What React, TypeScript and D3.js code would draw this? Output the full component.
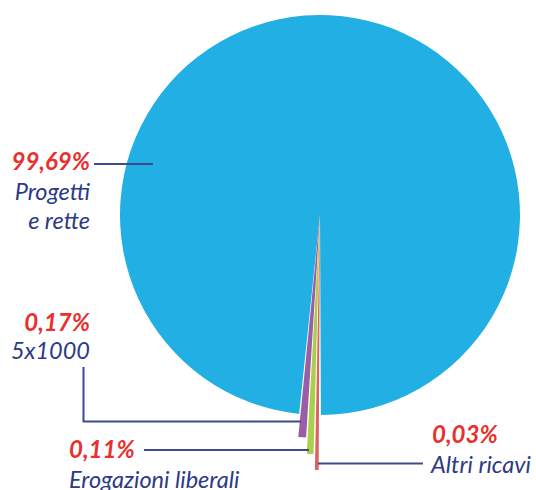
import React from "react";
import * as d3 from "d3";

const categories = ["Progetti e rette", "5x1000", "Erogazioni liberali", "Altri ricavi"];
const values = [99.69, 0.17, 0.11, 0.03];
const valueLabels = ["99,69%", "0,17%", "0,11%", "0,03%"];
const colors = ["#21afe4", "#9a5ea6", "#a9cf4b", "#dc6460"];

const W = 536;
const H = 490;
const cx = 320;
const cy = 215;
const R = 200;
const DEG = Math.PI / 180;

export default function App() {
  // small slices exaggerated with a sqrt scale (degrees) so they are visible
  const small = d3.scaleSqrt().domain([0, 1]).range([0, 4.9]);
  const idx = d3.range(values.length);
  // draw order clockwise starting just past the bottom: Altri, Erogazioni, 5x1000, Progetti
  const order = [3, 2, 1, 0];
  const gap = 0.4;
  let a = 180 + 0.3;
  const arcsInfo: Record<number, { s: number; e: number }> = {};
  order.forEach((i) => {
    if (values[i] < 1) {
      const span = small(values[i]);
      arcsInfo[i] = { s: a * DEG, e: (a + span) * DEG };
      a += span + gap;
    } else {
      arcsInfo[i] = { s: a * DEG, e: (180 + 360 - 0.25) * DEG };
    }
  });
  const outer = (i: number) => (i === 0 ? R : R + 23 + (i - 1) * 16);
  const arc = d3.arc<any>();

  const pctStyle: React.CSSProperties = {
    fontFamily: "Lato, 'Open Sans', sans-serif",
    fontWeight: 700,
    fontStyle: "italic",
    fontSize: 24,
    fill: "#e8302d",
  };
  const nameStyle: React.CSSProperties = {
    fontFamily: "Lato, 'Open Sans', sans-serif",
    fontWeight: 400,
    fontStyle: "italic",
    fontSize: 23.5,
    fill: "#2c3a87",
  };
  const lineColor = "#3d4a8e";

  return (
    <svg width={W} height={H} style={{ position: "absolute", left: 0, top: 0 }}>
      <rect width={W} height={H} fill="#fff" />
      <g transform={`translate(${cx},${cy})`}>
        {idx.map((i) => (
          <path
            key={i}
            d={
              arc({
                innerRadius: 0,
                outerRadius: outer(i),
                startAngle: arcsInfo[i].s,
                endAngle: arcsInfo[i].e,
              }) as string
            }
            fill={colors[i]}
          />
        ))}
      </g>
      {/* Progetti e rette */}
      <line x1={94} y1={164} x2={153} y2={164} stroke={lineColor} strokeWidth={2} />
      <text x={90} y={170} textAnchor="end" style={pctStyle}>{valueLabels[0]}</text>
      <text x={90} y={200} textAnchor="end" style={nameStyle}>Progetti</text>
      <text x={90} y={229} textAnchor="end" style={nameStyle}>e rette</text>
      {/* 5x1000 */}
      <text x={90} y={331} textAnchor="end" style={pctStyle}>{valueLabels[1]}</text>
      <text x={90} y={359} textAnchor="end" style={nameStyle}>{categories[1]}</text>
      <polyline points="83.5,367 83.5,421.5 301,421.5" fill="none" stroke={lineColor} strokeWidth={2} />
      {/* Erogazioni liberali */}
      <text x={69} y={458} textAnchor="start" style={pctStyle}>{valueLabels[2]}</text>
      <line x1={144} y1={450} x2={309} y2={450} stroke={lineColor} strokeWidth={2} />
      <text x={69} y={488} textAnchor="start" style={nameStyle}>{categories[2]}</text>
      {/* Altri ricavi */}
      <text x={432} y={443} textAnchor="start" style={pctStyle}>{valueLabels[3]}</text>
      <line x1={318} y1={463.5} x2={423} y2={463.5} stroke={lineColor} strokeWidth={2} />
      <text x={431} y={473} textAnchor="start" style={nameStyle}>{categories[3]}</text>
    </svg>
  );
}
